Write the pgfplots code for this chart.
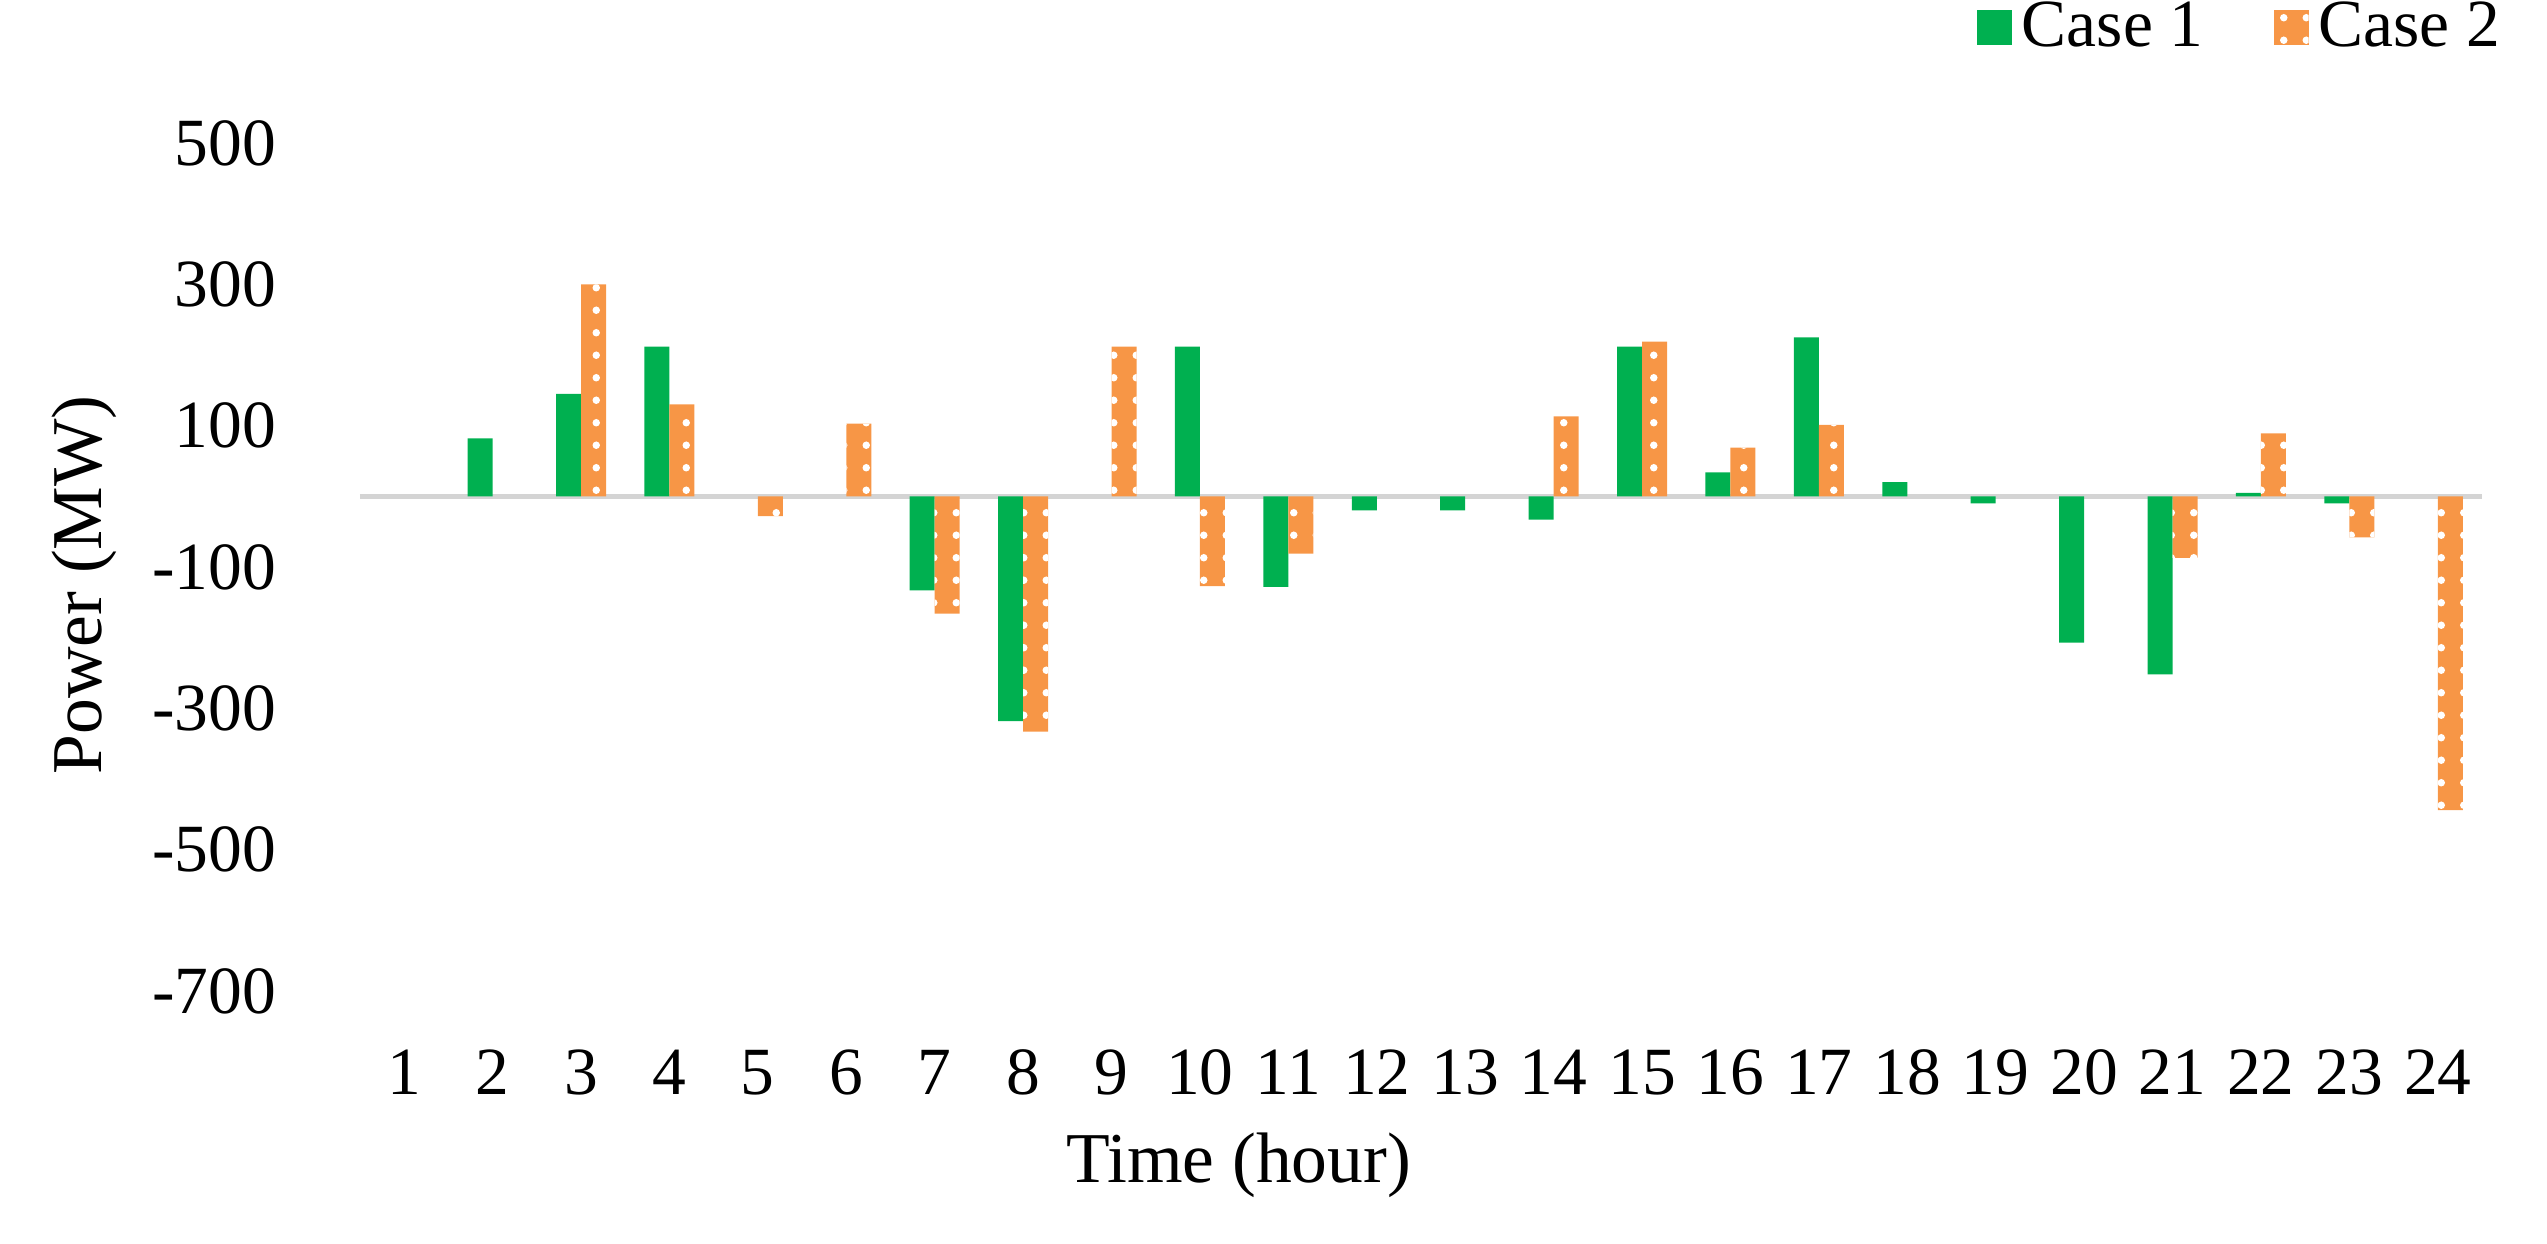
\documentclass[border=0pt]{standalone}
\usepackage{fontspec}
\setmainfont{Liberation Serif}
\usepackage{pgfplots}
\pgfplotsset{compat=1.18}
\usetikzlibrary{patterns.meta}

\definecolor{casegreen}{RGB}{0,176,80}
\definecolor{caseorange}{RGB}{247,150,70}

% small white dots on the orange bars
\tikzdeclarepattern{
  name=whitedots,
  type=uncolored,
  bottom left={(-0.1pt,-0.1pt)},
  top right={(4.6pt,4.6pt)},
  tile size={(4.5pt,4.5pt)},
  code={\fill (2.25pt,2.25pt) circle (0.75pt);}
}

\newcommand{\lblfont}{\fontsize{13.5}{16}\selectfont}
\newcommand{\ttlfont}{\fontsize{14.3}{17}\selectfont}

\begin{document}
\begin{tikzpicture}
\path[use as bounding box] (-72pt,-50.6pt) rectangle (437.4pt,198.2pt);
\begin{axis}[
    at={(0,0)}, anchor=south west,
    scale only axis,
    width=424.4pt, height=169.6pt,
    xmin=0.5, xmax=24.5,
    ymin=-700, ymax=500,
    ybar=0pt, bar width=5pt,
    xtick={1,...,24},
    ytick={-700,-500,-300,-100,100,300,500},
    yticklabels={-700,-500,-300,-100,100,300,500},
    /pgf/number format/assume math mode=true,
    axis line style={draw=none},
    major tick length=0pt,
    extra y ticks={0},
    extra y tick labels={},
    extra y tick style={grid=major, major grid style={draw=black!17, line width=1pt}},
    ticklabel style={font=\lblfont},
    xticklabel style={anchor=north, inner sep=0pt, yshift=-11.6pt},
    yticklabel style={anchor=east, inner sep=0pt, xshift=-16.6pt},
    xlabel={Time (hour)},
    ylabel={Power (MW)},
    label style={font=\ttlfont},
    xlabel style={at={(axis description cs:0.414,-0.206)}, anchor=center},
    ylabel style={at={(axis description cs:-0.130,0.479)}, anchor=center},
    legend style={
        at={(axis description cs:1.021,1.136)},
        anchor=east,
        draw=none, fill=none,
        legend columns=2,
        font=\lblfont,
        /tikz/every even column/.append style={column sep=12pt}
    },
    legend image code/.code={\path[#1] (0pt,-3.5pt) rectangle (7pt,3.5pt);},
]

% Case 1
\addplot[fill=casegreen, draw=none] coordinates {
    (2,82) (3,145) (4,212) (7,-133) (8,-318) (10,212) (11,-128)
    (12,-20) (13,-20) (14,-33) (15,212) (16,34) (17,225) (18,20)
    (19,-10) (20,-207) (21,-252) (22,5) (23,-10)
};

% Case 2
\addplot[fill=caseorange, draw=none,
    postaction={pattern=whitedots, pattern color=white}] coordinates {
    (3,300) (4,130) (5,-28) (6,103) (7,-166) (8,-333) (9,212)
    (10,-127) (11,-81) (14,113) (15,219) (16,69) (17,101)
    (21,-87) (22,89) (23,-58) (24,-444)
};

\legend{Case 1, Case 2}
\end{axis}
\end{tikzpicture}
\end{document}
